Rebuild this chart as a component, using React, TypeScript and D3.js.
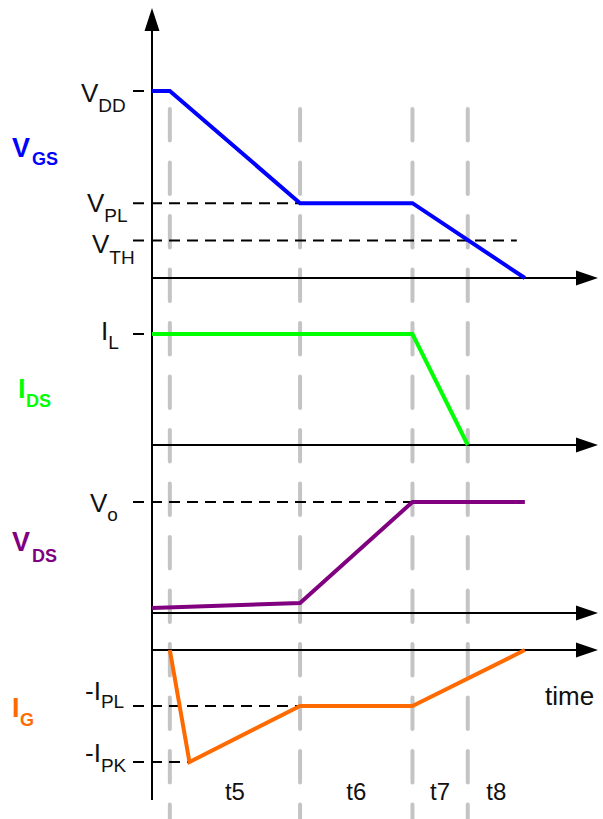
import React from 'react';
import * as d3 from 'd3';

// time axis, arbitrary units
const phaseStarts = [1, 8.3, 14.6, 17.7];
const phaseEnd = 20.9;
const phaseNames = ['t5', 't6', 't7', 't8'];

// waveforms
const vgsTimes = [0, 1, 8.3, 14.6, 20.9];
const vgsValues = [10, 10, 4, 4, 0];
const idsTimes = [0, 14.6, 17.7];
const idsValues = [1, 1, 0];
const vdsTimes = [0, 8.3, 14.6, 20.9];
const vdsValues = [0.045, 0.09, 1, 1];
const igTimes = [1, 2.1, 8.3, 14.6, 20.9];
const igValues = [0, -2, -1, -1, 0];

// reference levels: [main, sub, value, dashed-until time]
const vgsLevels: [string, string, number, number][] = [
  ['V', 'DD', 10, 0],
  ['V', 'PL', 4, 8.3],
  ['V', 'TH', 2, 20.45],
];
const idsLevels: [string, string, number, number][] = [['I', 'L', 1, 0]];
const vdsLevels: [string, string, number, number][] = [['V', 'o', 1, 14.6]];
const igLevels: [string, string, number, number][] = [
  ['-I', 'PL', -1, 8.3],
  ['-I', 'PK', -2, 2.1],
];

const W = 603;
const H = 819;
const axisX = 152;
const arrowTip = 598;

const x = d3.scaleLinear().domain([0, 25]).range([axisX, arrowTip]);

const panels = [
  {
    name: 'V', sub: 'GS', color: '#0000ff', times: vgsTimes, values: vgsValues, levels: vgsLevels,
    y: d3.scaleLinear().domain([0, 10]).range([278, 91]),
    title: { x: 12, y: 157, sx: 32, sy: 165 },
    lab: [{ x: 81, dy: 11, sdy: 10 }, { x: 87, dy: 9, sdy: 10 }, { x: 92, dy: 12, sdy: 11 }],
  },
  {
    name: 'I', sub: 'DS', color: '#00ff00', times: idsTimes, values: idsValues, levels: idsLevels,
    y: d3.scaleLinear().domain([0, 1]).range([445, 334]),
    title: { x: 18, y: 398, sx: 26, sy: 407 },
    lab: [{ x: 101, dy: 6, sdy: 9 }],
  },
  {
    name: 'V', sub: 'DS', color: '#800080', times: vdsTimes, values: vdsValues, levels: vdsLevels,
    y: d3.scaleLinear().domain([0, 1]).range([613, 502]),
    title: { x: 12, y: 551, sx: 32, sy: 562 },
    lab: [{ x: 90, dy: 10, sdy: 9 }],
  },
  {
    name: 'I', sub: 'G', color: '#ff6a00', times: igTimes, values: igValues, levels: igLevels,
    y: d3.scaleLinear().domain([-2, 0]).range([762, 650]),
    title: { x: 12, y: 717, sx: 20, sy: 726 },
    lab: [{ x: 85, dy: -6, sdy: 8 }, { x: 85, dy: 0, sdy: 10 }],
  },
];

const font = 'Liberation Sans, Arial, sans-serif';

function arrowRight(y: number) {
  return `M${arrowTip},${y} L${arrowTip - 22},${y - 7.5} L${arrowTip - 22},${y + 7.5} Z`;
}

export default function App() {
  return (
    <svg
      width={W}
      height={H}
      style={{ position: 'absolute', left: 0, top: 0, background: '#fff' }}
      fontFamily={font}
    >
      <rect width={W} height={H} fill="#fff" />

      {/* phase separators */}
      {phaseStarts.map((t, i) => (
        <line
          key={'g' + i}
          x1={x(t)}
          x2={x(t)}
          y1={109}
          y2={H + 4}
          stroke="#c4c4c4"
          strokeWidth={4}
          strokeLinecap="round"
          strokeDasharray="31.5 22"
        />
      ))}

      {/* vertical axis */}
      <line x1={axisX} x2={axisX} y1={800} y2={28} stroke="#000" strokeWidth={2} />
      <path d={`M${axisX},8 L${axisX - 7.5},31 L${axisX + 7.5},31 Z`} fill="#000" />

      {panels.map((p, pi) => {
        const zero = p.y(0);
        const line = d3
          .line<number>()
          .x((_, i) => x(p.times[i]))
          .y(d => p.y(d));
        return (
          <g key={'p' + pi}>
            {/* reference levels */}
            {p.levels.map(([m, s, v, until], li) => {
              const yy = p.y(v);
              const lb = p.lab[li];
              return (
                <g key={'l' + li}>
                  <line
                    x1={133}
                    x2={Math.max(x(until), 145)}
                    y1={yy}
                    y2={yy}
                    stroke="#000"
                    strokeWidth={2}
                    strokeDasharray="11 7"
                  />
                  <text x={lb.x} y={yy + lb.dy} fontSize={26} fill="#111">
                    {m}
                    <tspan fontSize={19} dy={lb.sdy}>
                      {s}
                    </tspan>
                  </text>
                </g>
              );
            })}

            {/* baseline axis */}
            <line x1={axisX} x2={arrowTip - 18} y1={zero} y2={zero} stroke="#000" strokeWidth={2} />
            <path d={arrowRight(zero)} fill="#000" />

            {/* waveform */}
            <path
              d={line(p.values) || ''}
              fill="none"
              stroke={p.color}
              strokeWidth={4}
              strokeLinejoin="miter"
            />

            {/* title */}
            <text x={p.title.x} y={p.title.y} fontSize={27} fontWeight="bold" fill={p.color}>
              {p.name}
            </text>
            <text x={p.title.sx} y={p.title.sy} fontSize={18} fontWeight="bold" fill={p.color}>
              {p.sub}
            </text>
          </g>
        );
      })}

      {/* phase names */}
      {phaseNames.map((n, i) => {
        const a = phaseStarts[i];
        const b = i < phaseStarts.length - 1 ? phaseStarts[i + 1] : phaseEnd;
        return (
          <text key={n} x={x((a + b) / 2)} y={800} fontSize={24} textAnchor="middle" fill="#111">
            {n}
          </text>
        );
      })}

      <text x={545} y={705} fontSize={26} fill="#111">
        time
      </text>
    </svg>
  );
}
